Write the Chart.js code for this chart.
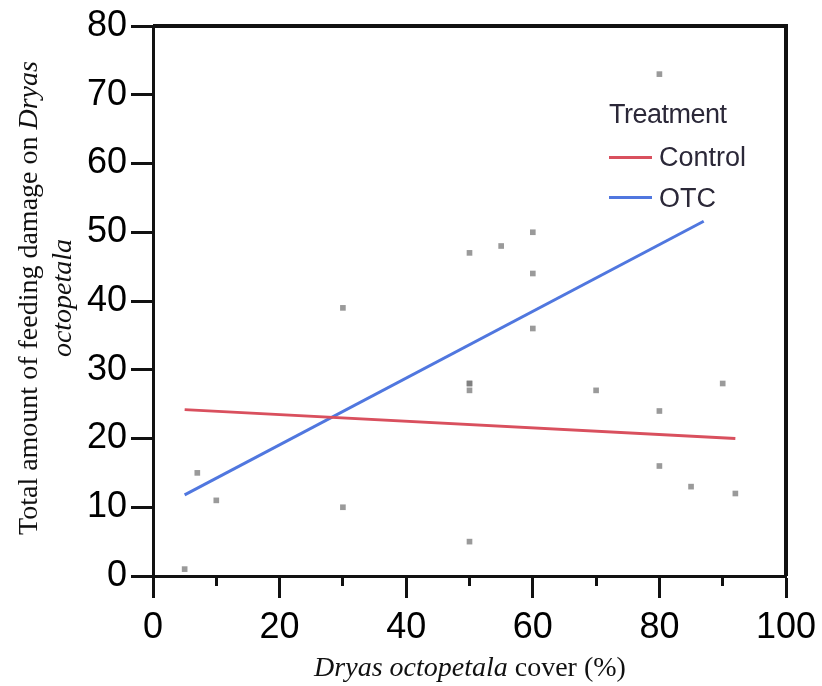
<!DOCTYPE html>
<html>
<head>
<meta charset="utf-8">
<script src="https://cdn.jsdelivr.net/npm/chart.js@4.4.1/dist/chart.umd.min.js"></script>
<style>
  body { margin: 0; background: #fff; }
  #wrap { position: relative; width: 822px; height: 686px; }
  #chart { position: absolute; left: 0; top: 0; }
  .serif { font-family: "Liberation Serif", "DejaVu Serif", serif; font-size: 28px; color: #111; }
  #ytitle { position: absolute; top: 264px; width: 600px; height: 68px; line-height: 34px;
            text-align: center; transform: rotate(-90deg); transform-origin: 300px 34px; left: -255px; }
  #xtitle { position: absolute; left: 170px; width: 600px; top: 651px; line-height: 32px; text-align: center; }
  .leg { position: absolute; font-family: "Liberation Sans", Arial, sans-serif; font-size: 27px; color: #2b2838; line-height: 30px; }
  .swatch { position: absolute; height: 3px; width: 43px; }
</style>
</head>
<body>
<div id="wrap">
  <canvas id="chart" width="822" height="686"></canvas>
  <div id="ytitle" class="serif">Total amount of feeding damage on <i>Dryas</i><br><i>octopetala</i></div>
  <div id="xtitle" class="serif"><i>Dryas octopetala</i> cover (%)</div>
  <div class="leg" style="left:609px; top:99px; letter-spacing:-0.5px;">Treatment</div>
  <div class="swatch" style="left:609px; top:156px; background:#d9505e;"></div>
  <div class="leg" style="left:659px; top:142px;">Control</div>
  <div class="swatch" style="left:609px; top:196px; background:#5077df;"></div>
  <div class="leg" style="left:659px; top:183px;">OTC</div>
</div>
<script>
// observed plots (cover %, damage)
const coverPct = [5, 7, 10, 30, 30, 50, 50, 50, 50, 50, 55, 60, 60, 60, 70, 80, 80, 80, 85, 90, 92];
const damage   = [1, 15, 11, 39, 10, 47, 28, 28, 27, 5, 48, 50, 44, 36, 27, 73, 24, 16, 13, 28, 12];

// fitted lines per treatment
const controlFitX = [5, 92];
const controlFitY = [24.2, 20.0];
const otcFitX = [5, 87];
const otcFitY = [11.8, 51.6];

const xTicks = [0, 20, 40, 60, 80, 100];
const yTicks = [0, 10, 20, 30, 40, 50, 60, 70, 80];

const toPts = (xs, ys) => xs.map((x, i) => ({ x: x, y: ys[i] }));

const tickFont = { family: "Liberation Sans, Arial, sans-serif", size: 36 };

// frame on top and right of the plot
const framePlugin = {
  id: "frame",
  afterDraw(chart) {
    const a = chart.chartArea;
    const ctx = chart.ctx;
    ctx.save();
    ctx.strokeStyle = "#111";
    ctx.lineWidth = 4;
    ctx.beginPath();
    ctx.moveTo(a.left, a.top);
    ctx.lineTo(a.right, a.top);
    ctx.lineTo(a.right, a.bottom);
    ctx.stroke();
    ctx.restore();
  }
};

new Chart(document.getElementById("chart"), {
  type: "scatter",
  data: {
    datasets: [
      {
        label: "Observations",
        data: toPts(coverPct, damage),
        pointStyle: "rect",
        pointRadius: 4,
        pointBackgroundColor: "rgba(120,120,120,0.75)",
        pointBorderWidth: 0,
      },
      {
        type: "line",
        label: "Control",
        data: toPts(controlFitX, controlFitY),
        borderColor: "#d9505e",
        borderWidth: 3,
        pointRadius: 0,
        fill: false,
      },
      {
        type: "line",
        label: "OTC",
        data: toPts(otcFitX, otcFitY),
        borderColor: "#5077df",
        borderWidth: 3,
        pointRadius: 0,
        fill: false,
      },
    ],
  },
  options: {
    responsive: false,
    animation: false,
    layout: { padding: { left: 0, top: 26, right: 36, bottom: 0 } },
    plugins: {
      legend: { display: false },
      tooltip: { enabled: false },
    },
    scales: {
      x: {
        type: "linear",
        position: "bottom",
        weight: 1,
        min: 0,
        max: 100,
        afterBuildTicks: (s) => { s.ticks = xTicks.map(v => ({ value: v })); },
        ticks: { font: { ...tickFont, lineHeight: 1.45 }, color: "#000", padding: 4 },
        grid: { drawOnChartArea: false, tickLength: 22, tickWidth: 3, tickColor: "#111" },
        border: { color: "#111", width: 3 },
        afterFit: (s) => { s.height = 110; },
      },
      xMinor: {
        type: "linear",
        position: "bottom",
        weight: 0,
        min: 0,
        max: 100,
        ticks: { display: false, stepSize: 10 },
        grid: {
          drawOnChartArea: false,
          tickLength: 10,
          tickWidth: 3,
          tickColor: (c) => (c.tick && c.tick.value % 20 !== 0 ? "#111" : "rgba(0,0,0,0)"),
        },
        border: { display: false },
        afterFit: (s) => { s.height = 0; },
      },
      y: {
        type: "linear",
        position: "left",
        min: 0,
        max: 80,
        afterBuildTicks: (s) => { s.ticks = yTicks.map(v => ({ value: v })); },
        ticks: { font: tickFont, color: "#000", padding: 4 },
        grid: { drawOnChartArea: false, tickLength: 22, tickWidth: 3, tickColor: "#111" },
        border: { color: "#111", width: 3 },
        afterFit: (s) => { s.width = 153; },
      },
    },
  },
  plugins: [framePlugin],
});
</script>
</body>
</html>
